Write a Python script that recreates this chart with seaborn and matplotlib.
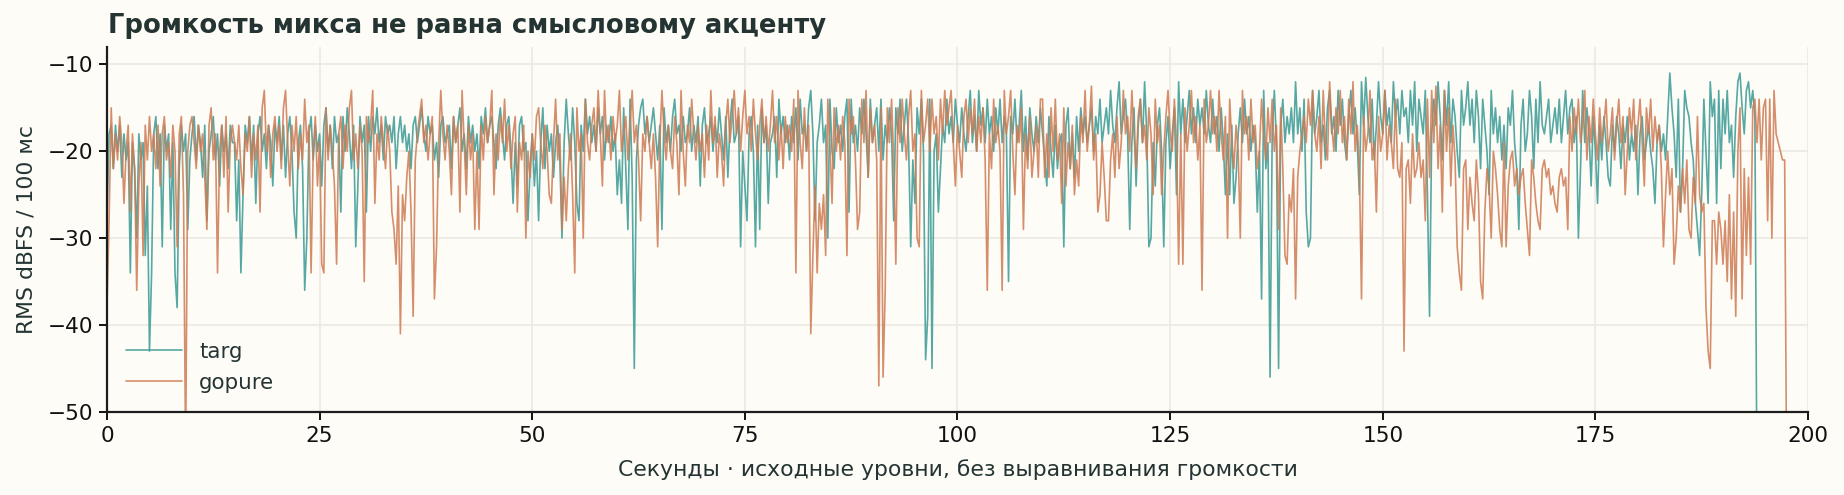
import numpy as np
import pandas as pd
import seaborn as sns
import matplotlib.pyplot as plt

# RMS level (dBFS), one value every 0.25 s
HOP = 0.25

targ = [
    -28, -18, -17, -22, -17, -20, -17, -23, -18, -21, -19, -34, -19, -22, -30, -18, -21, -19, -32, -24,
    -43, -34, -18, -16, -22, -18, -31, -17, -20, -18, -29, -19, -34, -38, -22, -17, -20, -18, -29, -21,
    -18, -16, -21, -17, -19, -23, -17, -28, -20, -18, -16, -21, -18, -24, -17, -20, -18, -22, -17, -19,
    -19, -28, -21, -34, -25, -17, -19, -16, -21, -17, -26, -18, -16, -20, -18, -22, -17, -19, -24, -17,
    -19, -16, -21, -17, -23, -18, -16, -20, -27, -30, -19, -17, -22, -36, -30, -18, -16, -21, -17, -20,
    -18, -24, -17, -15, -20, -17, -22, -16, -19, -18, -27, -16, -20, -15, -18, -22, -17, -31, -24, -16,
    -19, -17, -27, -16, -20, -16, -18, -15, -19, -17, -21, -16, -18, -17, -19, -16, -22, -18, -16, -19,
    -17, -20, -18, -22, -17, -16, -19, -17, -15, -18, -20, -16, -18, -17, -21, -19, -23, -17, -16, -19,
    -18, -17, -22, -16, -19, -17, -15, -20, -18, -22, -16, -19, -17, -20, -18, -22, -16, -18, -15, -19,
    -17, -16, -19, -22, -17, -15, -18, -21, -17, -16, -20, -26, -19, -24, -17, -16, -20, -19, -28, -22,
    -18, -24, -20, -28, -19, -15, -22, -17, -20, -18, -23, -19, -17, -21, -30, -19, -14, -18, -21, -15,
    -19, -26, -28, -17, -20, -14, -18, -16, -19, -17, -20, -15, -18, -16, -21, -17, -19, -16, -20, -18,
    -25, -21, -26, -15, -22, -29, -14, -23, -45, -21, -17, -15, -14, -18, -16, -19, -17, -15, -18, -21,
    -17, -29, -15, -19, -17, -20, -16, -14, -18, -17, -20, -16, -19, -18, -15, -20, -17, -19, -16, -24,
    -17, -15, -19, -18, -16, -20, -17, -19, -15, -18, -21, -16, -23, -17, -14, -19, -18, -16, -31, -20,
    -24, -28, -18, -16, -20, -31, -17, -29, -15, -19, -17, -26, -19, -18, -16, -23, -14, -18, -16, -19,
    -17, -21, -16, -19, -15, -21, -14, -18, -17, -20, -15, -13, -18, -28, -19, -17, -14, -19, -17, -30,
    -14, -20, -22, -15, -19, -17, -20, -16, -14, -27, -14, -19, -17, -20, -15, -18, -14, -18, -23, -14,
    -19, -17, -15, -20, -14, -21, -17, -19, -15, -18, -28, -15, -18, -14, -20, -17, -14, -19, -31, -21,
    -26, -15, -18, -14, -20, -44, -39, -14, -45, -20, -18, -27, -22, -17, -19, -14, -18, -16, -19, -14,
    -17, -19, -15, -18, -20, -16, -13, -19, -16, -20, -13, -17, -15, -19, -14, -18, -16, -20, -15, -18,
    -14, -19, -16, -18, -35, -16, -18, -14, -19, -17, -13, -20, -16, -21, -15, -18, -20, -16, -19, -15,
    -18, -21, -24, -16, -20, -23, -17, -22, -19, -18, -31, -17, -15, -22, -18, -23, -16, -20, -15, -18,
    -16, -19, -17, -15, -20, -16, -18, -14, -19, -17, -15, -18, -13, -17, -19, -15, -12, -18, -16, -14,
    -18, -29, -19, -15, -24, -17, -14, -19, -12, -18, -31, -30, -19, -24, -17, -15, -20, -31, -19, -16,
    -22, -18, -15, -25, -12, -18, -14, -19, -16, -13, -18, -15, -19, -14, -17, -15, -18, -13, -17, -19,
    -14, -18, -16, -20, -15, -19, -25, -18, -25, -17, -26, -23, -18, -15, -19, -14, -18, -16, -20, -17,
    -19, -27, -20, -37, -13, -22, -19, -46, -18, -13, -19, -45, -17, -14, -19, -16, -18, -15, -19, -12,
    -18, -15, -20, -14, -27, -31, -30, -13, -18, -16, -13, -19, -17, -21, -15, -13, -18, -16, -20, -13,
    -17, -14, -19, -21, -16, -13, -18, -15, -19, -25, -12, -17, -11.5, -16, -19, -14, -21, -17, -12, -16,
    -18, -13, -17, -15, -19, -12, -16, -14, -18, -13, -16, -15, -19, -13, -17, -12, -20, -14, -16, -18,
    -13, -25, -39, -18, -14, -17, -12, -16, -21, -13, -17, -12, -19, -14, -16, -20, -23, -13, -17, -15,
    -12, -17, -14, -19, -13, -16, -22, -14, -17, -20, -25, -13, -18, -15, -19, -16, -21, -17, -22, -15,
    -17, -13, -19, -22, -29, -17, -14, -20, -18, -13, -16, -22, -14, -19, -12, -17, -18, -16, -14, -19,
    -17, -15, -18, -14, -19, -16, -13, -18, -15, -14, -19, -16, -30, -22, -13, -19, -15, -18, -24, -16,
    -20, -26, -17, -21, -16, -19, -23, -24, -17, -20, -16, -18, -22, -17, -19, -16, -21, -18, -20, -17,
    -25, -18, -16, -21, -19, -17, -20, -22, -26, -19, -17, -20, -18, -21, -16, -11, -15, -18, -23, -14,
    -27, -22, -13, -15, -16, -19, -21, -26, -29, -32, -25, -14, -20, -26, -12, -16, -14, -26, -13, -22,
    -14, -18, -13, -19, -17, -23, -16, -12, -11, -15, -18, -13, -12, -15, -13, -16, -60,
]

gopure = [
    -38, -28, -15, -22, -18, -21, -16, -19, -26, -20, -17, -27, -18, -22, -36, -24, -19, -32, -17, -21,
    -16, -20, -18, -22, -17, -24, -18, -16, -21, -19, -23, -17, -20, -31, -18, -16, -25, -55, -20, -17,
    -16, -19, -22, -17, -20, -18, -23, -29, -17, -15, -21, -18, -34, -20, -17, -23, -16, -27, -19, -17,
    -19, -21, -17, -22, -25, -18, -20, -16, -23, -18, -21, -17, -27, -15, -13, -20, -17, -23, -18, -16,
    -20, -17, -22, -15, -13, -19, -24, -17, -20, -16, -22, -18, -21, -14, -19, -17, -34, -20, -16, -24,
    -19, -33, -34, -15, -21, -17, -20, -24, -33, -18, -16, -22, -17, -20, -15, -13, -21, -18, -22, -17,
    -20, -35, -16, -19, -17, -13, -26, -18, -21, -16, -19, -22, -17, -20, -27, -29, -33, -24, -41, -25,
    -28, -23, -20, -27, -39, -21, -18, -16, -14, -19, -17, -21, -18, -16, -37, -31, -19, -13, -18, -21,
    -17, -20, -25, -16, -19, -17, -27, -13, -19, -25, -17, -21, -18, -29, -20, -29, -17, -21, -16, -19,
    -17, -13, -25, -18, -21, -16, -19, -14, -20, -17, -22, -18, -16, -27, -19, -21, -17, -30, -20, -23,
    -18, -21, -16, -15, -19, -22, -17, -20, -25, -26, -19, -14, -21, -18, -29, -23, -28, -22, -18, -25,
    -34, -15, -20, -18, -30, -14, -19, -21, -17, -15, -20, -13, -18, -24, -13, -19, -17, -21, -16, -19,
    -17, -13, -20, -18, -16, -21, -17, -13, -19, -17, -21, -28, -18, -20, -16, -19, -22, -18, -23, -31,
    -19, -13, -18, -21, -17, -20, -22, -16, -19, -25, -13, -20, -24, -17, -19, -14, -18, -21, -17, -20,
    -18, -23, -17, -21, -13, -19, -16, -23, -18, -20, -24, -17, -14, -19, -16, -13, -18, -15, -20, -16,
    -13, -18, -16, -20, -14, -18, -21, -17, -14, -19, -16, -20, -17, -13, -19, -16, -21, -17, -22, -16,
    -19, -17, -20, -14, -34, -13, -19, -22, -15, -20, -17, -41, -32, -24, -34, -26, -29, -25, -32, -14,
    -19, -26, -15, -20, -17, -21, -16, -19, -32, -14, -18, -16, -21, -29, -27, -14, -19, -13, -23, -15,
    -19, -17, -21, -47, -15, -46, -36, -15, -19, -14, -21, -33, -15, -19, -14, -18, -21, -16, -13, -20,
    -18, -30, -31, -13, -19, -17, -14, -20, -14, -18, -16, -21, -14, -18, -13, -17, -15, -13, -19, -24,
    -17, -20, -23, -16, -14, -19, -15, -18, -14, -20, -16, -19, -15, -21, -36, -18, -22, -14, -19, -17,
    -20, -36, -13, -18, -16, -13, -20, -25, -17, -19, -15, -29, -18, -22, -16, -23, -20, -17, -23, -14,
    -14, -23, -18, -23, -15, -20, -14, -21, -18, -26, -15, -24, -19, -22, -17, -25, -21, -24, -16, -19,
    -13, -20, -17, -12.5, -21, -18, -27, -25, -19, -23, -28, -28, -21, -18, -23, -16, -22, -19, -13, -18,
    -16, -20, -13, -18, -22, -16, -14, -19, -17, -21, -15, -18, -25, -14, -19, -17, -25, -20, -16, -13,
    -18, -20, -14, -19, -33, -18, -33, -15, -20, -17, -13, -19, -16, -21, -17, -36, -14, -19, -17, -13,
    -18, -16, -20, -13, -18, -21, -16, -30, -14, -19, -22, -17, -20, -30, -13, -18, -16, -21, -14, -19,
    -17, -22, -20, -14, -18, -21, -15, -19, -14, -20, -17, -29, -15, -22, -32, -33, -25, -27, -22, -37,
    -23, -20, -18, -16, -19, -14, -17, -13, -18, -20, -16, -22, -13, -19, -21, -12, -17, -20, -15, -18,
    -13, -19, -16, -21, -14, -18, -12, -20, -17, -22, -37, -16, -20, -18, -13, -21, -19, -27, -16, -20,
    -18, -13, -21, -17, -19, -22, -14, -22, -23, -19, -43, -22, -21, -26, -18, -23, -22, -19, -23, -21,
    -28, -14, -23, -13, -19, -12.5, -22, -17, -27, -13, -20, -15, -24, -17, -21, -31, -34, -36, -22, -21,
    -29, -23, -26, -28, -21, -25, -35, -37, -27, -22, -24, -30, -20, -22, -25, -29, -31, -19, -31, -24,
    -21, -20, -24, -22, -25, -23, -22, -26, -29, -32, -21, -23, -26, -28, -29, -22, -21, -23, -22, -25,
    -24, -26, -27, -23, -22, -24, -23, -29, -16, -20, -15, -18, -14, -19, -17, -13, -21, -16, -19, -14,
    -18, -21, -15, -19, -17, -14, -20, -18, -15, -21, -17, -14, -19, -16, -25, -20, -15, -18, -14, -21,
    -17, -14, -19, -24, -15, -18, -14, -20, -16, -19, -17, -22, -31, -25, -20, -25, -22, -33, -30, -24,
    -27, -22, -26, -21, -29, -30, -23, -26, -16, -25, -27, -26, -38, -43, -45, -28, -28, -33, -27, -29,
    -33, -28, -35, -25, -37, -27, -39, -20, -15, -37, -22, -32, -23, -33, -15, -14, -19, -14, -21, -15,
    -14, -28, -14, -30, -13, -18, -19, -20, -21, -21, -60,
]

series_names = ["targ", "gopure"]
palette = {"targ": "#3a9a94", "gopure": "#cf7b53"}

BG = "#fdfcf7"
INK = "#243433"

frames = []
for name, vals in zip(series_names, [targ, gopure]):
    frames.append(pd.DataFrame({
        "sec": np.arange(len(vals)) * HOP,
        "db": vals,
        "track": name,
    }))
df = pd.concat(frames, ignore_index=True)

sns.set_theme(style="whitegrid")
plt.rcParams["font.family"] = ["DejaVu Sans"]

fig, ax = plt.subplots(figsize=(9.22, 2.475), dpi=200)
fig.patch.set_facecolor(BG)
ax.set_facecolor(BG)
fig.subplots_adjust(left=0.058, right=0.9805, bottom=0.168, top=0.905)

for name in series_names:
    sub = df[df["track"] == name]
    sns.lineplot(data=sub, x="sec", y="db", ax=ax, color=palette[name],
                 linewidth=0.6, alpha=0.85, label=name, estimator=None, sort=False)

ax.set_xlim(0, 200)
ax.set_ylim(-50, -8)
ax.set_xticks([0, 25, 50, 75, 100, 125, 150, 175, 200])
ax.set_yticks([-50, -40, -30, -20, -10])
ax.grid(True, color="#ebe9e2", linewidth=0.6)
for side in ["top", "right"]:
    ax.spines[side].set_visible(False)
for side in ["left", "bottom"]:
    ax.spines[side].set_color("#1c1c1c")
    ax.spines[side].set_linewidth(0.8)
ax.tick_params(axis="both", labelsize=7.8, colors="#111111", length=3, width=0.7,
               pad=2, direction="out", bottom=True, left=True)

ax.set_xlabel("Секунды · исходные уровни, без выравнивания громкости",
              fontsize=7.9, color=INK, labelpad=5)
ax.set_ylabel("RMS dBFS / 100 мс", fontsize=7.9, color=INK, labelpad=4)

fig.text(0.0585, 0.947, "Громкость микса не равна смысловому акценту",
         fontsize=9.3, fontweight="bold", color=INK, ha="left", va="center")

leg = ax.legend(loc="lower left", frameon=False, fontsize=7.7,
                handlelength=2.6, labelspacing=0.5)
for txt in leg.get_texts():
    txt.set_color(INK)

fig.savefig("out.png", dpi=200, facecolor=BG)
